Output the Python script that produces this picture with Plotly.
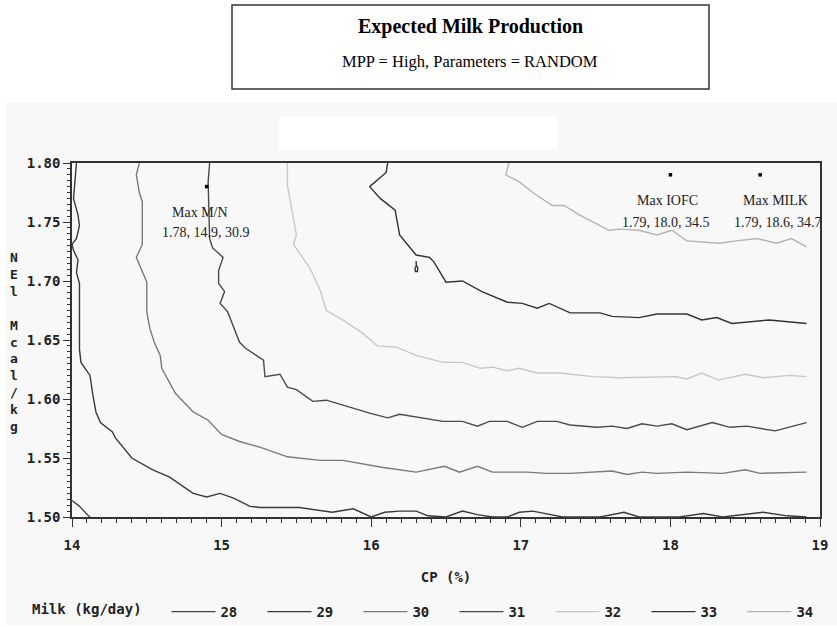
import plotly.graph_objects as go

# Milk contour levels (kg/day) and their line colours
levels = ["28", "29", "30", "31", "32", "33", "34"]
level_colors = ["#444444", "#3a3a3a", "#7a7a7a", "#4a4a4a", "#c8c8c8", "#333333", "#b4b4b4"]

# Contour paths: CP (%) vs NEl (Mcal/kg)
cp_28 = [14.00, 14.05, 14.11, 14.12]
nel_28 = [1.514, 1.509, 1.501, 1.500]

cp_29 = [14.03, 14.01, 14.04, 14.05, 14.03, 14.00, 14.01, 14.04, 14.03, 14.05, 14.05, 14.05,
         14.05, 14.06, 14.12, 14.14, 14.16, 14.19, 14.27, 14.29, 14.40, 14.54, 14.65, 14.81,
         14.90, 14.99, 15.08, 15.19, 15.26, 15.52, 15.74, 15.88, 16.00, 16.09, 16.19, 16.30,
         16.38, 16.50, 16.61, 16.71, 16.81, 16.91, 16.99, 17.08, 17.19, 17.28, 17.53, 17.69,
         17.79, 18.06, 18.22, 18.35, 18.62, 18.78, 18.91]
nel_29 = [1.800, 1.770, 1.756, 1.747, 1.736, 1.731, 1.726, 1.718, 1.707, 1.698, 1.684, 1.667,
          1.642, 1.631, 1.620, 1.603, 1.589, 1.580, 1.572, 1.567, 1.550, 1.540, 1.534, 1.520,
          1.517, 1.520, 1.516, 1.509, 1.508, 1.508, 1.504, 1.507, 1.500, 1.504, 1.505, 1.505,
          1.501, 1.500, 1.505, 1.502, 1.500, 1.500, 1.504, 1.505, 1.502, 1.500, 1.500, 1.504,
          1.500, 1.500, 1.503, 1.500, 1.504, 1.501, 1.500]

cp_30 = [14.45, 14.43, 14.45, 14.47, 14.47, 14.43, 14.47, 14.50, 14.50, 14.52, 14.55, 14.59,
         14.60, 14.69, 14.81, 14.91, 15.00, 15.12, 15.26, 15.44, 15.66, 15.81, 16.08, 16.30,
         16.49, 16.59, 16.71, 16.81, 17.04, 17.17, 17.33, 17.61, 17.71, 17.81, 17.91, 18.11,
         18.35, 18.50, 18.60, 18.91]
nel_30 = [1.800, 1.790, 1.775, 1.767, 1.731, 1.720, 1.708, 1.699, 1.674, 1.660, 1.648, 1.637,
          1.626, 1.605, 1.589, 1.582, 1.570, 1.564, 1.559, 1.551, 1.548, 1.548, 1.542, 1.538,
          1.543, 1.538, 1.543, 1.538, 1.538, 1.537, 1.537, 1.539, 1.536, 1.538, 1.537, 1.538,
          1.537, 1.540, 1.537, 1.538]

cp_31 = [14.92, 14.91, 14.92, 14.94, 15.01, 14.98, 14.98, 15.02, 14.99, 15.04, 15.12, 15.16,
         15.28, 15.29, 15.39, 15.44, 15.50, 15.61, 15.70, 15.90, 15.99, 16.11, 16.19, 16.48,
         16.61, 16.71, 16.79, 16.91, 17.01, 17.11, 17.24, 17.33, 17.51, 17.61, 17.71, 17.81,
         17.91, 18.01, 18.11, 18.28, 18.40, 18.51, 18.70, 18.91]
nel_31 = [1.800, 1.784, 1.736, 1.728, 1.720, 1.709, 1.698, 1.691, 1.681, 1.674, 1.648, 1.643,
          1.633, 1.619, 1.621, 1.610, 1.608, 1.598, 1.599, 1.591, 1.588, 1.584, 1.587, 1.581,
          1.581, 1.577, 1.581, 1.581, 1.576, 1.581, 1.581, 1.578, 1.576, 1.577, 1.575, 1.579,
          1.577, 1.579, 1.574, 1.580, 1.576, 1.577, 1.573, 1.580]

cp_32 = [15.44, 15.44, 15.48, 15.50, 15.48, 15.52, 15.59, 15.66, 15.70, 15.81, 15.94, 16.04,
         16.17, 16.30, 16.48, 16.61, 16.73, 16.81, 16.91, 16.99, 17.11, 17.26, 17.48, 17.66,
         18.04, 18.11, 18.21, 18.32, 18.50, 18.62, 18.80, 18.91]
nel_32 = [1.800, 1.781, 1.753, 1.739, 1.731, 1.724, 1.711, 1.692, 1.675, 1.667, 1.656, 1.645,
          1.644, 1.637, 1.631, 1.631, 1.626, 1.627, 1.624, 1.626, 1.622, 1.622, 1.619, 1.618,
          1.619, 1.617, 1.622, 1.616, 1.621, 1.618, 1.620, 1.619]

cp_33 = [16.11, 16.10, 15.99, 16.06, 16.16, 16.19, 16.30, 16.39, 16.42, 16.50, 16.61, 16.74,
         16.91, 17.01, 17.11, 17.19, 17.33, 17.53, 17.61, 17.79, 17.91, 18.11, 18.21, 18.31,
         18.41, 18.66, 18.91]
nel_33 = [1.800, 1.792, 1.780, 1.770, 1.760, 1.739, 1.722, 1.720, 1.716, 1.699, 1.700, 1.691,
          1.682, 1.681, 1.677, 1.681, 1.673, 1.673, 1.670, 1.669, 1.672, 1.672, 1.667, 1.669,
          1.664, 1.667, 1.664]

# small closed 33 island below the main 33 contour
cp_33_island = [16.300, 16.302, 16.312, 16.308, 16.296, 16.293, 16.302]
nel_33_island = [1.717, 1.713, 1.711, 1.708, 1.708, 1.711, 1.713]

cp_34 = [16.92, 16.90, 16.99, 17.08, 17.21, 17.29, 17.39, 17.59, 17.66, 17.79, 17.91, 18.01,
         18.11, 18.33, 18.44, 18.58, 18.71, 18.81, 18.91]
nel_34 = [1.800, 1.790, 1.784, 1.775, 1.764, 1.764, 1.756, 1.743, 1.744, 1.743, 1.739, 1.743,
          1.734, 1.732, 1.734, 1.736, 1.732, 1.736, 1.729]

# Optimum points: NEl, CP, expected milk
max_names = ["Max M/N", "Max IOFC", "Max MILK"]
max_nel = [1.78, 1.79, 1.79]
max_cp = [14.9, 18.0, 18.6]
max_milk = [30.9, 34.5, 34.7]
# label anchor positions (CP, NEl) for the two text rows
label_cp_name = [14.855, 17.98, 18.70]
label_cp_vals = [14.895, 17.97, 18.72]
label_nel_name = [1.758, 1.768, 1.768]
label_nel_vals = [1.741, 1.750, 1.750]

x_ticks = [14, 15, 16, 17, 18, 19]

contours = [
    (cp_28, nel_28), (cp_29, nel_29), (cp_30, nel_30), (cp_31, nel_31),
    (cp_32, nel_32), (cp_33, nel_33), (cp_34, nel_34),
]

MONO = "DejaVu Sans Mono"
SERIF = "Liberation Serif"
PANEL = "#f8f8f8"
W, H = 837, 627

fig = go.Figure()
for lev, col, (xs, ys) in zip(levels, level_colors, contours):
    fig.add_trace(go.Scatter(
        x=xs, y=ys, mode="lines", name=lev,
        line=dict(color=col, width=1.4), legendgroup=lev, hoverinfo="skip",
    ))
    if lev == "33":
        fig.add_trace(go.Scatter(
            x=cp_33_island, y=nel_33_island, mode="lines", showlegend=False,
            line=dict(color=col, width=1.4), legendgroup=lev, hoverinfo="skip",
        ))

fig.add_trace(go.Scatter(
    x=max_cp, y=max_nel, mode="markers", showlegend=False, hoverinfo="skip",
    marker=dict(symbol="square", size=3.5, color="black"),
))

for i, name in enumerate(max_names):
    fig.add_annotation(x=label_cp_name[i], y=label_nel_name[i], text=name,
                       showarrow=False, font=dict(family=SERIF, size=14, color="#222"),
                       xanchor="center", yanchor="middle")
    fig.add_annotation(x=label_cp_vals[i], y=label_nel_vals[i],
                       text=f"{max_nel[i]:.2f}, {max_cp[i]:.1f}, {max_milk[i]:.1f}",
                       showarrow=False, font=dict(family=SERIF, size=14, color="#222"),
                       xanchor="center", yanchor="middle")

L, R, T, B = 72, 17, 163, 110
PW, PH = W - L - R, H - T - B


def px(xp):
    return (xp - L) / PW


def py(yp):
    return (H - B - yp) / PH


# grey panel behind the plot, white blank patch, and the title box
fig.add_shape(type="rect", xref="paper", yref="paper", x0=px(6), x1=px(837), y0=py(625), y1=py(103),
              fillcolor=PANEL, line=dict(width=0), layer="below")
fig.add_shape(type="rect", xref="paper", yref="paper", x0=px(279), x1=px(557), y0=py(150), y1=py(117),
              fillcolor="white", line=dict(width=0), layer="below")
fig.add_shape(type="rect", xref="paper", yref="paper", x0=px(232), x1=px(709), y0=py(89), y1=py(5),
              fillcolor="white", line=dict(color="#333", width=1.5))

fig.add_annotation(xref="paper", yref="paper", x=px(470), y=py(26), text="<b>Expected Milk Production</b>",
                   showarrow=False, font=dict(family=SERIF, size=20, color="black"), yanchor="middle")
fig.add_annotation(xref="paper", yref="paper", x=px(470), y=py(61), text="MPP = High, Parameters = RANDOM",
                   showarrow=False, font=dict(family=SERIF, size=16.5, color="black"), yanchor="middle")

# stacked vertical y-axis title
fig.add_annotation(xref="paper", yref="paper", x=px(14), y=py(342),
                   text="<br>".join(list("NEl") + [" "] + list("Mcal/kg")),
                   showarrow=False, font=dict(family=MONO, size=13, color="#222", weight="bold"),
                   xanchor="center", yanchor="middle")

fig.update_xaxes(
    range=[14, 19], tickvals=x_ticks, ticktext=[str(t) for t in x_ticks],
    showline=True, linecolor="#333", linewidth=1.5, mirror=True,
    ticks="outside", ticklen=8, tickcolor="#333", tickwidth=1.2,
    minor=dict(dtick=0.1, ticks="outside", ticklen=4, tickcolor="#333", tickwidth=1),
    showgrid=False, zeroline=False, ticklabelstandoff=6, automargin=False,
    tickfont=dict(family=MONO, size=14, color="#222", weight="bold"),
    title=dict(text="CP (%)", font=dict(family=MONO, size=14, color="#222", weight="bold"), standoff=21),
)
fig.update_yaxes(
    range=[1.50, 1.80], tick0=1.50, dtick=0.05, tickformat=".2f",
    showline=True, linecolor="#333", linewidth=1.5, mirror=True,
    ticks="outside", ticklen=7, tickcolor="#333", tickwidth=1.2,
    minor=dict(dtick=0.005, ticks="outside", ticklen=3, tickcolor="#333", tickwidth=1),
    showgrid=False, zeroline=False, automargin=False,
    tickfont=dict(family=MONO, size=14, color="#222", weight="bold"),
)

fig.update_layout(
    width=W, height=H, autosize=False,
    margin=dict(l=L, r=R, t=T, b=B, pad=0),
    paper_bgcolor="white", plot_bgcolor=PANEL,
    showlegend=True,
    legend=dict(
        orientation="h", xref="container", yref="container",
        x=30 / W, y=1 - 612 / H, xanchor="left", yanchor="middle",
        title=dict(text="Milk (kg/day)\u00a0\u00a0", side="left",
                   font=dict(family=MONO, size=14, color="#222", weight="bold")),
        font=dict(family=MONO, size=14, color="#222", weight="bold"),
        entrywidth=37, entrywidthmode="pixels", itemwidth=44,
        bgcolor="rgba(0,0,0,0)", traceorder="normal",
    ),
)

fig.write_html("out.html")
